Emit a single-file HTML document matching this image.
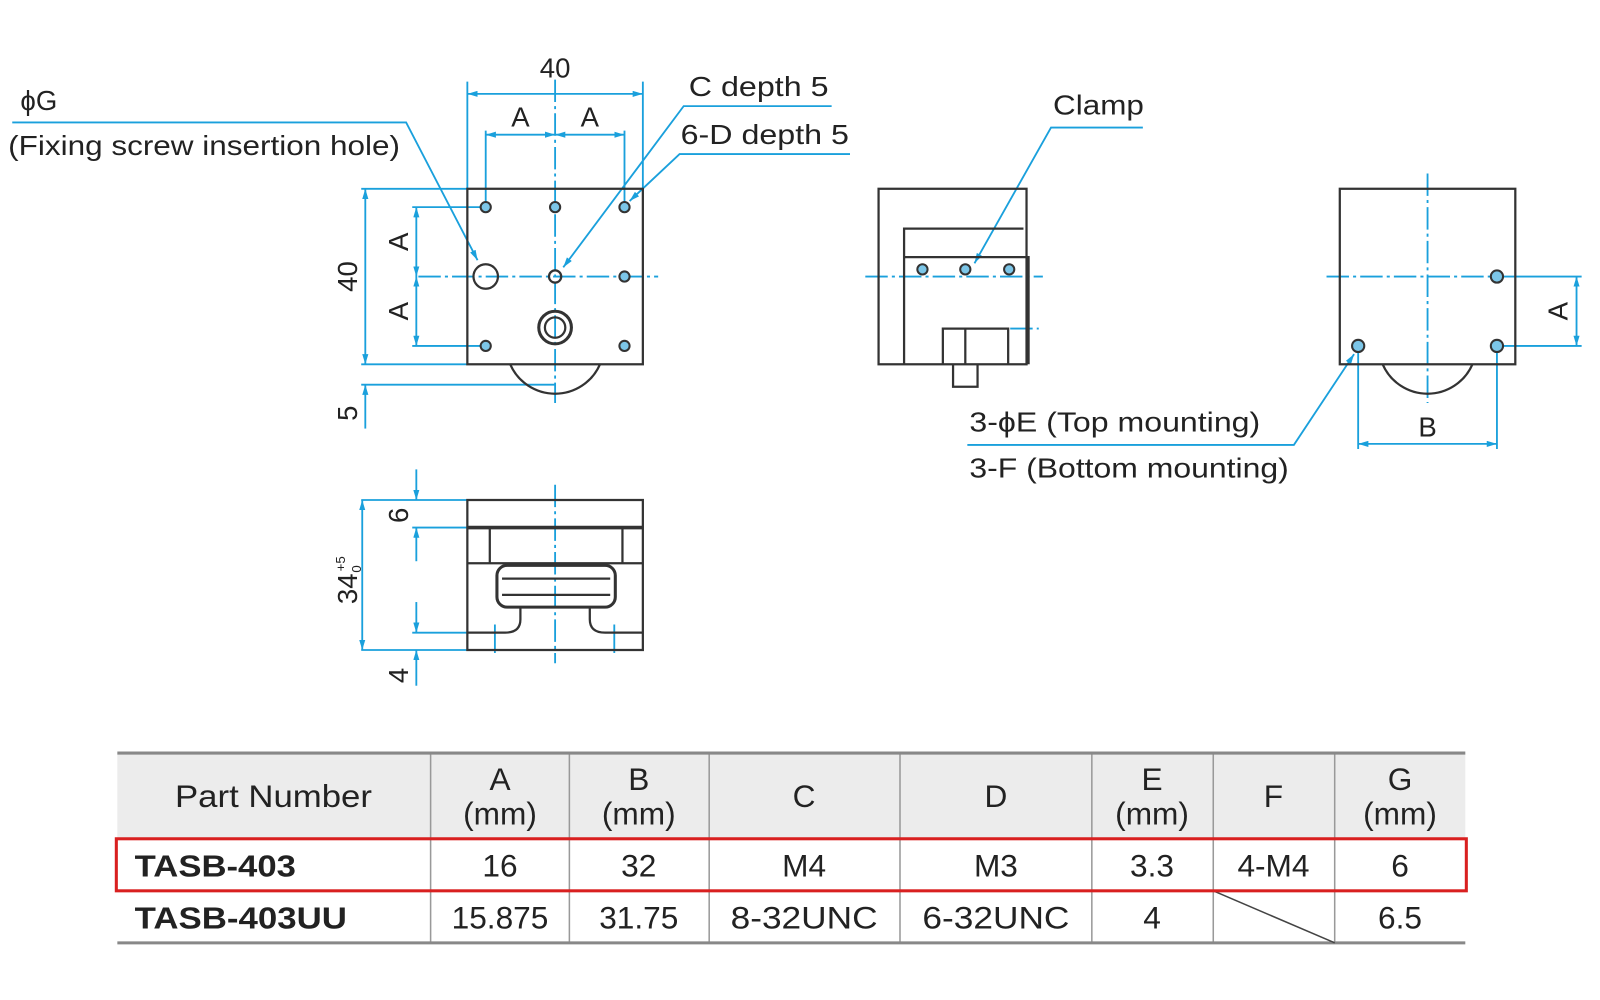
<!DOCTYPE html>
<html><head><meta charset="utf-8"><style>
html,body{margin:0;padding:0;background:#fff;}
svg{display:block;}
text{font-family:"Liberation Sans",sans-serif;fill:#222;}
</style></head><body>
<svg width="1600" height="1000" viewBox="0 0 1568 980" xmlns="http://www.w3.org/2000/svg">
<defs>
<marker id="a" viewBox="0 0 10 6" refX="10" refY="3" markerWidth="10" markerHeight="6" orient="auto-start-reverse" markerUnits="userSpaceOnUse"><path d="M0,0 L10,3 L0,6z" fill="#1aa0dc"/></marker>
</defs>
<g fill="none" stroke="#1aa0dc" stroke-width="1.8">
<path d="M544 78 V395 M410 271 H645" stroke-dasharray="22 4 3 4"/>
<path d="M458 80 V185 M630 80 V185 M476 128 V200 M612 128 V200"/>
<path d="M458 92 H630" marker-start="url(#a)" marker-end="url(#a)"/>
<path d="M476 132 H544" marker-start="url(#a)" marker-end="url(#a)"/>
<path d="M544 132 H612" marker-start="url(#a)" marker-end="url(#a)"/>
<path d="M354 185 H458 M354 357 H458 M354 377 H544 M404 203 H476 M404 339 H476"/>
<path d="M358 185 V357" marker-start="url(#a)" marker-end="url(#a)"/>
<path d="M358 420 V377" marker-end="url(#a)"/>
<path d="M408 203 V271" marker-start="url(#a)" marker-end="url(#a)"/>
<path d="M408 271 V339" marker-start="url(#a)" marker-end="url(#a)"/>
<path d="M12 120 H398 L468 255" marker-end="url(#a)"/>
<path d="M815 104 H670 L552 262" marker-end="url(#a)"/>
<path d="M833 151 H666 L617 197" marker-end="url(#a)"/>
<path d="M1120 125 H1030 L955 258" marker-end="url(#a)"/>
<path d="M948 436 H1268 L1327 347" marker-end="url(#a)"/>
<path d="M848 271 H1022 M990 322 H1018" stroke-dasharray="22 4 3 4"/>
<path d="M1399 170 V395 M1300 271 H1470" stroke-dasharray="22 4 3 4"/>
<path d="M1470 271 H1550 M1470 339 H1550 M1331 345 V440 M1467 345 V440"/>
<path d="M1545 271 V339" marker-start="url(#a)" marker-end="url(#a)"/>
<path d="M1331 435 H1467" marker-start="url(#a)" marker-end="url(#a)"/>
<path d="M544 475 V650" stroke-dasharray="22 4 3 4"/>
<path d="M354 490 H458 M404 517 H458 M404 620 H458 M354 637 H458"/>
<path d="M355 490 V637" marker-start="url(#a)" marker-end="url(#a)"/>
<path d="M408 460 V490" marker-end="url(#a)"/>
<path d="M408 550 V517" marker-end="url(#a)"/>
<path d="M408 590 V620" marker-end="url(#a)"/>
<path d="M408 672 V637" marker-end="url(#a)"/>
<path d="M485 612 V640 M602 612 V640"/>
</g>
<g fill="none" stroke="#333" stroke-width="2.2">
<rect x="458" y="185" width="172" height="172"/>
<path d="M500 357 A48 48 0 0 0 588 357"/>
<circle cx="476" cy="271" r="12"/>
<circle cx="544" cy="271" r="6"/>
<circle cx="544" cy="321" r="16" stroke-width="3"/><circle cx="544" cy="321" r="10"/>
<g stroke-width="2" fill="#7cc6e8">
<circle cx="476" cy="203" r="5"/><circle cx="544" cy="203" r="5"/><circle cx="612" cy="203" r="5"/>
<circle cx="612" cy="271" r="5"/><circle cx="476" cy="339" r="5"/><circle cx="612" cy="339" r="5"/>
</g>
<rect x="861" y="185" width="145" height="172"/>
<path d="M886 357 V224 H1003 M886 252 H1008 V357 M924 357 V322 H988 V357 M934 357 V379 H958 V357 M946 322 V357"/>
<g stroke-width="2" fill="#7cc6e8"><circle cx="904" cy="264" r="5"/><circle cx="946" cy="264" r="5"/><circle cx="989" cy="264" r="5"/></g>
<rect x="1313" y="185" width="172" height="172"/>
<path d="M1355 357 A48 48 0 0 0 1443 357"/>
<g stroke-width="2" fill="#7cc6e8"><circle cx="1467" cy="271" r="6"/><circle cx="1331" cy="339" r="6"/><circle cx="1467" cy="339" r="6"/></g>
<rect x="458" y="490" width="172" height="147"/>
<path d="M458 517 H630" stroke-width="3.5"/>
<path d="M480 517 V552 M610 517 V552 M458 552 H630"/>
<rect x="487" y="554" width="116" height="41" rx="10" stroke-width="3"/>
<path d="M492 567 H598 M492 583 H598"/>
<path d="M510 595 V607 Q510 620 495 620 H458 M578 595 V607 Q578 620 593 620 H630"/>
</g>
<g font-size="27">
<text x="20" y="108">ϕG</text>
<text x="8" y="152" textLength="384" lengthAdjust="spacingAndGlyphs">(Fixing screw insertion hole)</text>
<text x="544" y="76" text-anchor="middle">40</text>
<text x="510" y="124" text-anchor="middle">A</text>
<text x="578" y="124" text-anchor="middle">A</text>
<text x="675" y="94" textLength="137" lengthAdjust="spacingAndGlyphs">C depth 5</text>
<text x="667" y="141" textLength="165" lengthAdjust="spacingAndGlyphs">6-D depth 5</text>
<text x="1032" y="112" textLength="89" lengthAdjust="spacingAndGlyphs">Clamp</text>
<text x="950" y="423" textLength="285" lengthAdjust="spacingAndGlyphs">3-ϕE (Top mounting)</text>
<text x="950" y="468" textLength="313" lengthAdjust="spacingAndGlyphs">3-F (Bottom mounting)</text>
<text x="1399" y="428" text-anchor="middle">B</text>
<text transform="translate(350,271) rotate(-90)" text-anchor="middle">40</text>
<text transform="translate(350,405) rotate(-90)" text-anchor="middle">5</text>
<text transform="translate(400,237) rotate(-90)" text-anchor="middle">A</text>
<text transform="translate(400,305) rotate(-90)" text-anchor="middle">A</text>
<text transform="translate(1536,305) rotate(-90)" text-anchor="middle">A</text>
<text transform="translate(400,505) rotate(-90)" text-anchor="middle">6</text>
<text transform="translate(400,662) rotate(-90)" text-anchor="middle">4</text>
<text transform="translate(350,592) rotate(-90)">34<tspan font-size="13" dy="-12" dx="2">+5</tspan><tspan font-size="13" dy="16" dx="-16">0</tspan></text>
</g>
<rect x="115" y="738" width="1321" height="84" fill="#ececec"/>
<g stroke="#999" stroke-width="1.5">
<path d="M422 738 V924 M558 738 V924 M695 738 V924 M882 738 V924 M1070 738 V924 M1189 738 V924 M1308 738 V924"/>
</g>
<path d="M115 738 H1436 M115 924 H1436" stroke="#888" stroke-width="3"/>
<path d="M1189 873 L1308 924" stroke="#444" stroke-width="1.5"/>
<rect x="114" y="822" width="1323" height="51" fill="none" stroke="#d92020" stroke-width="3"/>
<g font-size="31" text-anchor="middle">
<text x="268" y="791" textLength="193" lengthAdjust="spacingAndGlyphs">Part Number</text>
<text x="490" y="774">A</text><text x="490" y="808">(mm)</text>
<text x="626" y="774">B</text><text x="626" y="808">(mm)</text>
<text x="788" y="791">C</text>
<text x="976" y="791">D</text>
<text x="1129" y="774">E</text><text x="1129" y="808">(mm)</text>
<text x="1248" y="791">F</text>
<text x="1372" y="774">G</text><text x="1372" y="808">(mm)</text>
<text x="490" y="859">16</text><text x="626" y="859">32</text><text x="788" y="859">M4</text><text x="976" y="859">M3</text><text x="1129" y="859">3.3</text><text x="1248" y="859">4-M4</text><text x="1372" y="859">6</text>
<text x="490" y="910">15.875</text><text x="626" y="910">31.75</text><text x="788" y="910" textLength="144" lengthAdjust="spacingAndGlyphs">8-32UNC</text><text x="976" y="910" textLength="144" lengthAdjust="spacingAndGlyphs">6-32UNC</text><text x="1129" y="910">4</text><text x="1372" y="910">6.5</text>
</g>
<g font-size="30" font-weight="bold">
<text x="132" y="859" textLength="158" lengthAdjust="spacingAndGlyphs">TASB-403</text>
<text x="132" y="910" textLength="208" lengthAdjust="spacingAndGlyphs">TASB-403UU</text>
</g>
</svg>
</body></html>
